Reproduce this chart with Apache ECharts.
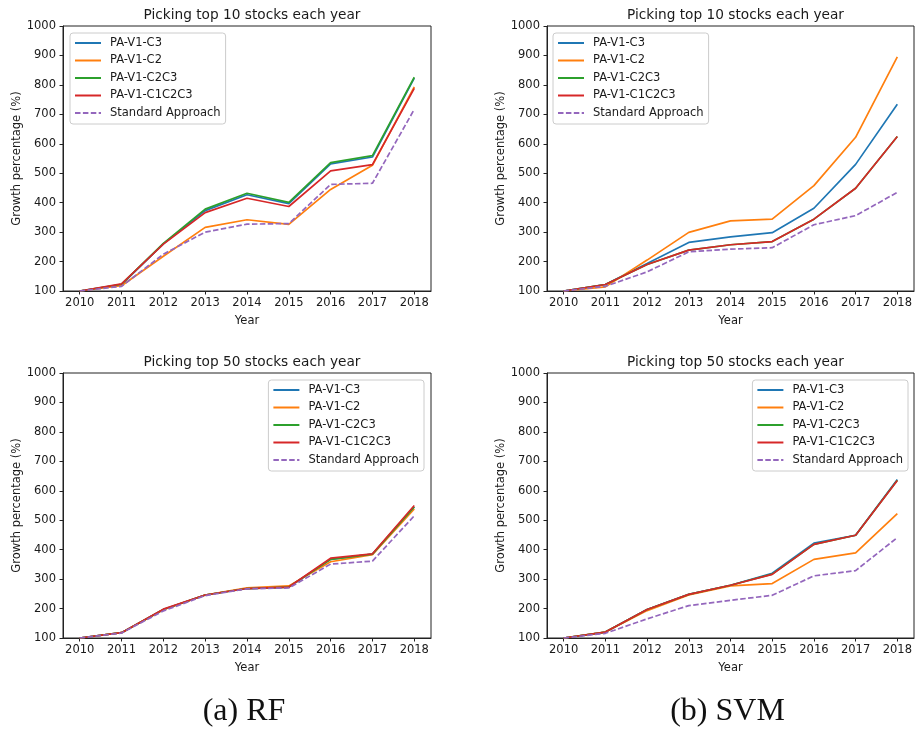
<!DOCTYPE html>
<html>
<head>
<meta charset="utf-8">
<script src="https://cdn.jsdelivr.net/npm/echarts@6/dist/echarts.min.js"></script>
<style>
  html, body { margin: 0; padding: 0; background: #fff; }
  #chart { width: 918px; height: 729px; }
</style>
</head>
<body>
<div id="chart"></div>
<script>
// Years on the x axis
const years = [2010, 2011, 2012, 2013, 2014, 2015, 2016, 2017, 2018];
const yTicks = [100, 200, 300, 400, 500, 600, 700, 800, 900, 1000];
const seriesNames = ['PA-V1-C3', 'PA-V1-C2', 'PA-V1-C2C3', 'PA-V1-C1C2C3', 'Standard Approach'];

// RF, top 10 stocks
const rf10_C3      = [100, 122, 260, 373, 427, 397, 532, 555, 823];
const rf10_C2      = [100, 118, 218, 316, 342, 326, 445, 527, 793];
const rf10_C2C3    = [100, 123, 262, 378, 432, 401, 536, 560, 826];
const rf10_C1C2C3  = [100, 124, 259, 366, 415, 387, 508, 529, 788];
const rf10_Std     = [100, 116, 225, 300, 327, 329, 462, 466, 717];

// SVM, top 10 stocks
const svm10_C3     = [100, 122, 193, 265, 284, 298, 381, 530, 734];
const svm10_C2     = [100, 114, 205, 299, 338, 344, 458, 622, 895];
const svm10_C2C3   = [100, 122, 190, 239, 257, 268, 344, 449, 625];
const svm10_C1C2C3 = [100, 122, 190, 239, 257, 268, 344, 449, 625];
const svm10_Std    = [100, 116, 165, 233, 242, 247, 325, 356, 435];

// RF, top 50 stocks
const rf50_C3      = [100, 118, 197, 246, 268, 273, 367, 385, 545];
const rf50_C2      = [100, 118, 196, 246, 270, 277, 359, 383, 538];
const rf50_C2C3    = [100, 118, 197, 246, 268, 273, 367, 385, 545];
const rf50_C1C2C3  = [100, 118, 198, 246, 268, 273, 371, 386, 550];
const rf50_Std     = [100, 117, 192, 244, 267, 270, 351, 361, 515];

// SVM, top 50 stocks
const svm50_C3     = [100, 120, 197, 248, 279, 320, 422, 449, 638];
const svm50_C2     = [100, 120, 193, 246, 277, 285, 367, 389, 522];
const svm50_C2C3   = [100, 120, 197, 248, 279, 317, 418, 449, 636];
const svm50_C1C2C3 = [100, 120, 197, 248, 279, 316, 418, 449, 635];
const svm50_Std    = [100, 116, 165, 210, 228, 245, 311, 329, 441];

const panelTitles = ['Picking top 10 stocks each year', 'Picking top 10 stocks each year',
                     'Picking top 50 stocks each year', 'Picking top 50 stocks each year'];
const captions = ['(a) RF', '(b) SVM'];

const panels = [
  [rf10_C3, rf10_C2, rf10_C2C3, rf10_C1C2C3, rf10_Std],
  [svm10_C3, svm10_C2, svm10_C2C3, svm10_C1C2C3, svm10_Std],
  [rf50_C3, rf50_C2, rf50_C2C3, rf50_C1C2C3, rf50_Std],
  [svm50_C3, svm50_C2, svm50_C2C3, svm50_C1C2C3, svm50_Std]
];

const colors = ['#1f77b4', '#ff7f0e', '#2ca02c', '#d62728', '#9467bd'];
const FONT = 'DejaVu Sans';
const TEXT = '#1a1a1a';

const grids = [
  { left: 63,  top: 26,  width: 368, height: 265 },
  { left: 547, top: 26,  width: 367, height: 265 },
  { left: 63,  top: 373, width: 368, height: 265 },
  { left: 547, top: 373, width: 367, height: 265 }
];

const legendPos = [
  { left: 70,  top: 33 },
  { left: 553, top: 33 },
  { right: 494, top: 380 },
  { right: 10,  top: 380 }
];

const option = {
  animation: false,
  backgroundColor: '#fff',
  textStyle: { fontFamily: FONT },
  grid: grids.map(g => Object.assign({
    show: true, borderColor: '#222', borderWidth: 1, backgroundColor: 'transparent'
  }, g)),
  title: panelTitles.map((t, i) => ({
    text: t,
    left: grids[i].left + grids[i].width / 2,
    top: grids[i].top - 23,
    textAlign: 'center',
    textStyle: { fontFamily: FONT, fontSize: 13.7, fontWeight: 'normal', color: TEXT }
  })).concat(captions.map((c, i) => ({
    text: c,
    left: grids[i].left + grids[i].width / 2 - 8,
    top: 691,
    textAlign: 'center',
    textStyle: { fontFamily: 'Liberation Serif', fontSize: 32, fontWeight: 'normal', color: '#111' }
  }))),
  legend: legendPos.map(p => Object.assign({
    data: seriesNames,
    orient: 'vertical',
    itemWidth: 26,
    itemHeight: 12,
    itemGap: 5.5,
    padding: [4, 5, 5, 4],
    borderColor: '#cccccc',
    borderWidth: 1,
    borderRadius: 3,
    backgroundColor: 'rgba(255,255,255,0.8)',
    // line-only keys: hide the marker drawn on top of the line sample
    itemStyle: { opacity: 0 },
    textStyle: { fontFamily: FONT, fontSize: 11.5, color: TEXT, lineHeight: 12, padding: [0, 0, 0, 4] }
  }, p)),
  xAxis: grids.map((g, i) => ({
    type: 'value',
    gridIndex: i,
    min: 2009.6,
    max: 2018.4,
    name: 'Year',
    nameLocation: 'middle',
    nameGap: 24,
    nameTextStyle: { fontFamily: FONT, fontSize: 11.5, color: TEXT },
    splitLine: { show: false },
    axisLine: { show: true, lineStyle: { color: '#222', width: 1 } },
    axisTick: { show: true, length: 3.5, customValues: years, lineStyle: { color: '#222' } },
    axisLabel: { customValues: years, margin: 6, fontFamily: FONT, fontSize: 11.5, color: TEXT,
                 formatter: v => String(v) }
  })),
  yAxis: grids.map((g, i) => ({
    type: 'value',
    gridIndex: i,
    min: yTicks[0],
    max: yTicks[yTicks.length - 1],
    interval: 100,
    name: 'Growth percentage (%)',
    nameLocation: 'middle',
    nameGap: 40,
    nameRotate: 90,
    nameTextStyle: { fontFamily: FONT, fontSize: 11.5, color: TEXT },
    splitLine: { show: false },
    axisLine: { show: true, lineStyle: { color: '#222', width: 1 } },
    axisTick: { show: true, length: 3.5, lineStyle: { color: '#222' } },
    axisLabel: { margin: 7, fontFamily: FONT, fontSize: 11.5, color: TEXT,
                 formatter: v => String(v) }
  })),
  series: []
};

panels.forEach((lines, p) => {
  lines.forEach((vals, k) => {
    option.series.push({
      type: 'line',
      name: seriesNames[k],
      xAxisIndex: p,
      yAxisIndex: p,
      data: years.map((yr, j) => [yr, vals[j]]),
      symbol: 'none',
      color: colors[k],
      lineStyle: {
        color: colors[k],
        width: 1.7,
        type: k === 4 ? [5.5, 2.4] : 'solid'
      },
      emphasis: { disabled: true }
    });
  });
});

const chart = echarts.init(document.getElementById('chart'), null, { renderer: 'canvas' });
chart.setOption(option);
</script>
</body>
</html>
